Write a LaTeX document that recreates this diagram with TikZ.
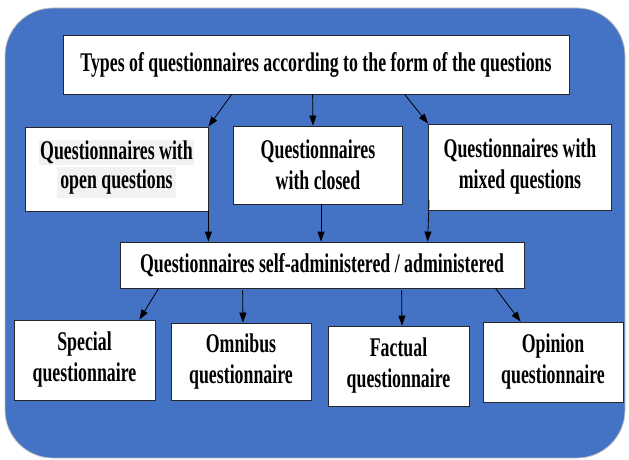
\documentclass[tikz,border=0pt]{standalone}
\usepackage{fontspec}
\setmainfont{Liberation Serif}[FakeStretch=0.66]
\usetikzlibrary{arrows.meta,calc}
\definecolor{bgblue}{HTML}{4472C4}
\definecolor{hl}{HTML}{F2F2F2}
\begin{document}
\begin{tikzpicture}[x=1pt,y=-1pt,
  box/.style={draw=black!85,line width=0.8pt,fill=white,align=center,inner sep=0pt,
    font=\fontsize{27}{31}\selectfont\bfseries},
  arr/.style={draw=black,line width=0.8pt,-{Triangle[length=10pt,width=7pt]}}]
\useasboundingbox (0,0) rectangle (629,460);
\fill[bgblue,draw=black!25,line width=0.8pt,rounded corners=48pt] (5,8) rectangle (625,458);
\node[box,minimum width=506pt,minimum height=59pt] (title) at (316,64.5) {Types of questionnaires according to the form of the questions};
\node[box,minimum width=183pt,minimum height=84pt] (open) at (116.5,169)
  {\setlength{\fboxsep}{1pt}\colorbox{hl}{Questionnaires with}\\[-2pt]\colorbox{hl}{open questions}};
\node[box,minimum width=169pt,minimum height=78pt] (closed) at (318,165) {Questionnaires\\with closed};
\node[box,minimum width=183pt,minimum height=86pt] (mixed) at (520,167) {Questionnaires with\\mixed questions};
\node[box,minimum width=404pt,minimum height=46pt] (mid) at (322,265) {Questionnaires self-administered / administered};
\node[box,minimum width=141pt,minimum height=80pt] (special) at (84.5,360) {Special\\questionnaire};
\node[box,minimum width=140pt,minimum height=77pt] (omni) at (241,361.5) {Omnibus\\questionnaire};
\node[box,minimum width=141pt,minimum height=80pt] (fact) at (398.5,366) {Factual\\questionnaire};
\node[box,minimum width=140pt,minimum height=80pt] (opin) at (553,362) {Opinion\\questionnaire};
% level 1
\draw[arr] ($(title.south west)+(169,0)$) -- (open.north east);
\draw[arr] ($(title.south west)+(250,0)$) -- ($(closed.north)+(-5,0)$);
\draw[arr] ($(title.south west)+(342,0)$) -- (mixed.north west);
% level 2
\coordinate (o1) at (open.south east);
\draw[arr] (o1) -- (o1 |- mid.north);
\coordinate (c1) at ($(closed.south)+(3,0)$);
\draw[arr] (c1) -- (c1 |- mid.north);
\coordinate (m1) at ($(mixed.south west)+(1,-10)$);
\draw[arr] (m1) -- ($(mid.north west)+(308,0)$);
% level 3
\draw[arr] ($(mid.south west)+(39,0)$) -- ($(special.north east)+(-16,0)$);
\draw[arr] ($(mid.south west)+(123,2)$) -- ($(omni.north)+(2,0)$);
\draw[arr] ($(mid.south west)+(282,2)$) -- ($(fact.north)+(3.5,0)$);
\draw[arr] ($(mid.south west)+(376,0)$) -- ($(opin.north west)+(38,0)$);
\end{tikzpicture}
\end{document}
